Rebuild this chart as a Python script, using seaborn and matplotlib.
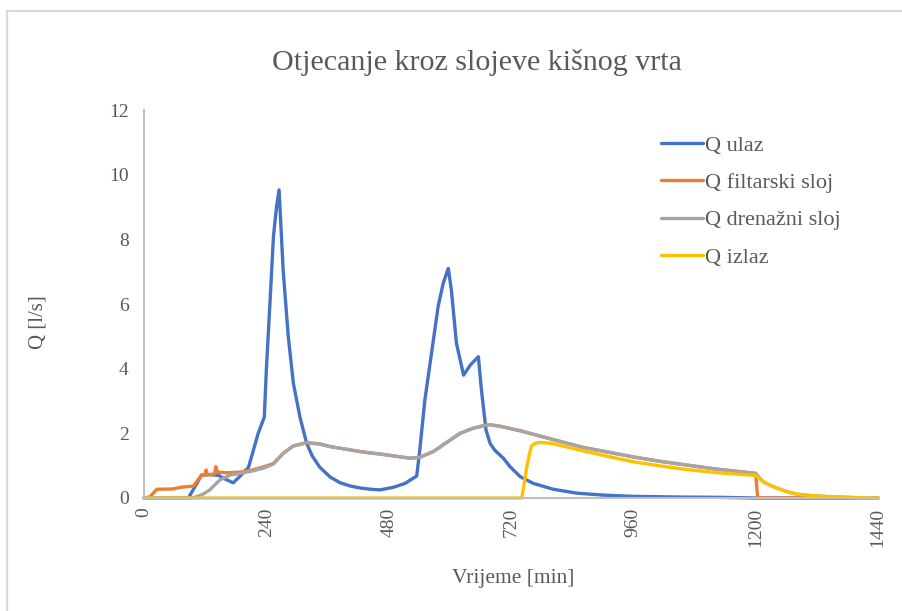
import numpy as np
import pandas as pd
import matplotlib
matplotlib.use("Agg")
import matplotlib.pyplot as plt
from matplotlib.lines import Line2D
import seaborn as sns

# ---------------- data ----------------
title = "Otjecanje kroz slojeve kišnog vrta"
x_label = "Vrijeme [min]"
y_label = "Q [l/s]"
x_ticks = [0, 240, 480, 720, 960, 1200, 1440]
y_ticks = [0, 2, 4, 6, 8, 10, 12]

names = ["Q ulaz", "Q filtarski sloj", "Q drenažni sloj", "Q izlaz"]
colors = ["#4472C4", "#ED7D31", "#A5A5A5", "#FFC000"]

t_ulaz = [0, 87, 100, 113, 130, 146, 160, 175, 190, 205, 215, 224, 236, 240, 247, 254, 260, 265,
          273, 283, 293, 306, 319, 330, 345, 365, 385, 405, 424, 445, 463, 489, 512, 535, 541,
          551, 565, 577, 587, 597, 603, 613, 627, 640, 656, 662, 671, 679, 688, 705, 718, 738,
          764, 803, 849, 900, 960, 1050, 1130, 1200, 1300, 1440]
q_ulaz = [0, 0, 0.35, 0.71, 0.72, 0.70, 0.58, 0.47, 0.70, 0.95, 1.5, 2.0, 2.5, 3.96, 6.0, 8.1, 9.0, 9.53,
          7.05, 5.0, 3.55, 2.5, 1.7, 1.3, 0.95, 0.65, 0.47, 0.37, 0.31, 0.27, 0.25, 0.33, 0.45, 0.68, 1.48,
          3.03, 4.58, 5.92, 6.64, 7.1, 6.43, 4.78, 3.8, 4.11, 4.37, 3.34, 2.1, 1.69, 1.48, 1.23, 0.97, 0.66,
          0.45, 0.27, 0.15, 0.09, 0.05, 0.03, 0.02, 0.0, 0.0, 0.0]

t_filtar = [0, 12, 25, 57, 71, 97, 113, 120, 122, 124, 138, 141, 144, 162, 188, 214, 240, 254, 273,
            293, 319, 345, 365, 400, 430, 463, 500, 522, 541, 568, 594, 620, 646, 676, 698, 738, 790,
            860, 900, 960, 1010, 1064, 1120, 1189, 1200, 1204, 1300, 1440]
q_filtar = [0, 0.04, 0.27, 0.28, 0.33, 0.37, 0.71, 0.72, 0.87, 0.72, 0.74, 0.97, 0.80, 0.78, 0.80, 0.87,
            0.99, 1.07, 1.38, 1.61, 1.71, 1.67, 1.59, 1.50, 1.42, 1.36, 1.28, 1.23, 1.26, 1.44, 1.72,
            2.0, 2.16, 2.27, 2.22, 2.08, 1.86, 1.57, 1.45, 1.27, 1.14, 1.02, 0.90, 0.78, 0.76, 0.0, 0.0, 0.0]

t_drena = [0, 95, 103, 116, 129, 149, 169, 195, 214, 234, 254, 273, 293, 319, 345, 365, 400, 430, 463,
           500, 522, 541, 568, 594, 620, 646, 676, 698, 738, 790, 860, 900, 960, 1010, 1064, 1120,
           1189, 1200, 1215, 1230, 1248, 1265, 1281, 1310, 1346, 1400, 1440]
q_drena = [0, 0, 0.04, 0.12, 0.25, 0.56, 0.71, 0.78, 0.84, 0.92, 1.05, 1.38, 1.61, 1.71, 1.67, 1.59,
           1.50, 1.42, 1.36, 1.28, 1.23, 1.26, 1.44, 1.72, 2.0, 2.16, 2.27, 2.22, 2.08, 1.86, 1.57, 1.45,
           1.27, 1.14, 1.02, 0.90, 0.78, 0.76, 0.50, 0.38, 0.27, 0.18, 0.12, 0.07, 0.04, 0.01, 0.0]

t_izlaz = [0, 741, 746, 751, 756, 760, 767, 777, 800, 850, 900, 960, 1010, 1064, 1120, 1189, 1200,
           1215, 1230, 1248, 1265, 1281, 1310, 1346, 1400, 1440]
q_izlaz = [0, 0, 0.45, 0.97, 1.35, 1.6, 1.69, 1.72, 1.69, 1.50, 1.32, 1.12, 1.0, 0.88, 0.79, 0.71, 0.70,
           0.50, 0.38, 0.27, 0.18, 0.12, 0.07, 0.04, 0.01, 0.0]

series_t = [t_ulaz, t_filtar, t_drena, t_izlaz]
series_q = [q_ulaz, q_filtar, q_drena, q_izlaz]

# ---------------- style ----------------
sns.set_style("white")
plt.rcParams["font.family"] = ["Liberation Serif", "DejaVu Serif"]
text_c = "#595959"
axis_c = "#BFBFBF"

fig = plt.figure(figsize=(9.02, 6.11), dpi=100)
W, H = 902, 611
ax = fig.add_axes([144 / W, 1 - 498 / H, (878 - 144) / W, (498 - 110) / H])

for name, c, t, q in zip(names, colors, series_t, series_q):
    df = pd.DataFrame({"t": t, "Q": q})
    sns.lineplot(data=df, x="t", y="Q", ax=ax, color=c, lw=2.4, estimator=None,
                 sort=False, label=name, solid_joinstyle="round", solid_capstyle="round")

ax.set_xlim(0, 1440)
ax.set_ylim(0, 12)
ax.set_xticks(x_ticks)
ax.set_yticks(y_ticks)
ax.set_xticklabels([str(v) for v in x_ticks], rotation=90)
ax.set_xlabel("")
ax.set_ylabel("")
for s in ["top", "right"]:
    ax.spines[s].set_visible(False)
for s in ["left", "bottom"]:
    ax.spines[s].set_color(axis_c)
    ax.spines[s].set_linewidth(1.5)
ax.tick_params(axis="x", direction="inout", length=10, width=1.2, color=axis_c,
               labelsize=14, labelcolor=text_c, pad=2)
ax.tick_params(axis="y", direction="out", length=5, width=1.2, color=axis_c,
               labelsize=14, labelcolor=text_c, pad=6)
for ln in ax.get_lines():
    ln.set_clip_on(False)

leg = ax.legend(loc="upper left", bbox_to_anchor=(661 / W, 1 - 135 / H),
                bbox_transform=fig.transFigure, frameon=False, fontsize=16,
                handlelength=1.9, handletextpad=0.1, labelspacing=0.76,
                borderpad=0, borderaxespad=0)
for txt in leg.get_texts():
    txt.set_color(text_c)

fig.text(477 / W, 1 - 62 / H, title, ha="center", va="center", fontsize=21.6, color=text_c)
fig.text(513 / W, 1 - 578 / H, x_label, ha="center", va="center", fontsize=15.5, color=text_c)
fig.text(38 / W, 1 - 322 / H, y_label, ha="center", va="center", rotation=90,
         fontsize=15, color=text_c)

# chart border (top and left edges visible)
fig.add_artist(Line2D([7.5 / W, 1.0], [1 - 10.5 / H, 1 - 10.5 / H], transform=fig.transFigure,
                      color="#D9D9D9", lw=1.6))
fig.add_artist(Line2D([7.5 / W, 7.5 / W], [1 - 10.5 / H, 0.0], transform=fig.transFigure,
                      color="#D9D9D9", lw=1.6))

fig.savefig("out.png", dpi=100, facecolor="white")
